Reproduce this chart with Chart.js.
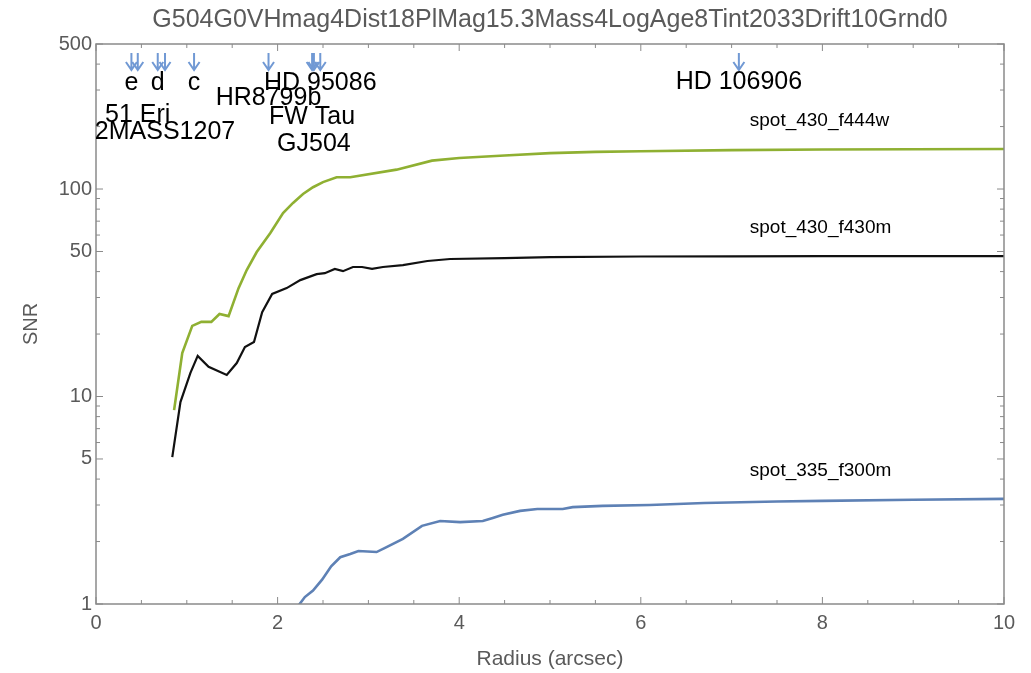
<!DOCTYPE html>
<html>
<head>
<meta charset="utf-8">
<script src="https://cdn.jsdelivr.net/npm/chart.js@4.4.0/dist/chart.umd.min.js"></script>
<style>
html, body { margin: 0; padding: 0; background: #fff; }
#wrap { width: 1031px; height: 673px; }
</style>
</head>
<body>
<div id="wrap"><canvas id="snr"></canvas></div>
<script>
// plot title
const plotTitle = 'G504G0VHmag4Dist18PlMag15.3Mass4LogAge8Tint2033Drift10Grnd0';

// spot_430_f444w
const f444wRadius = [0.86, 0.95, 1.06, 1.16, 1.27, 1.36, 1.46, 1.57, 1.66, 1.77, 1.92, 2.06, 2.17, 2.28, 2.39, 2.5, 2.65, 2.8, 3.31, 3.7, 4.0, 4.5, 5.0, 5.5, 6.0, 7.0, 8.0, 9.0, 10.0];
const f444wSNR = [8.6, 16.2, 21.9, 22.9, 22.9, 25, 24.4, 33.3, 40.7, 49.7, 61.4, 76.6, 85.7, 94.6, 102, 108, 114, 114, 124, 137, 141, 145, 149, 151, 152, 154, 155, 155.5, 156];

// spot_430_f430m
const f430mRadius = [0.84, 0.93, 1.04, 1.12, 1.24, 1.44, 1.55, 1.64, 1.74, 1.83, 1.94, 2.1, 2.25, 2.43, 2.52, 2.63, 2.72, 2.83, 2.93, 3.04, 3.16, 3.38, 3.65, 3.9, 4.5, 5.0, 6.0, 7.0, 8.0, 9.0, 10.0];
const f430mSNR = [5.1, 9.4, 13, 15.7, 13.9, 12.7, 14.5, 17.3, 18.3, 25.5, 31.2, 33.3, 36.4, 38.9, 39.3, 41.2, 40.2, 42.1, 42.1, 41.2, 42.1, 43, 45, 46, 46.5, 47, 47.3, 47.4, 47.5, 47.5, 47.5];

// spot_335_f300m
const f300mRadius = [2.22, 2.3, 2.39, 2.49, 2.59, 2.69, 2.8, 2.89, 3.09, 3.2, 3.38, 3.59, 3.79, 4.01, 4.26, 4.37, 4.48, 4.67, 4.86, 5.14, 5.25, 5.58, 6.1, 6.7, 7.5, 8.0, 9.0, 10.0];
const f300mSNR = [0.97, 1.08, 1.16, 1.31, 1.52, 1.68, 1.74, 1.8, 1.78, 1.88, 2.06, 2.38, 2.51, 2.48, 2.51, 2.6, 2.69, 2.81, 2.87, 2.87, 2.93, 2.97, 3.0, 3.07, 3.12, 3.14, 3.18, 3.21];

// known companions and their separations (arcsec)
const planetNames = ['e', '51 Eri', 'd', '2MASS1207', 'c', 'HR8799b', 'HD 95086', 'FW Tau', 'GJ504', 'HD 106906'];
const planetSep = [0.39, 0.46, 0.68, 0.76, 1.08, 1.9, 2.47, 2.38, 2.4, 7.08];

// axis ticks
const xTickValues = [0, 2, 4, 6, 8, 10];
const yTickLabels = [1, 5, 10, 50, 100, 500];

// label placement (pixels below the top of the frame)
const planetLabelDy = [39, 71, 39, 88, 39, 54, 39, 73, 100, 38];
const seriesLabelX = 7.2;
const seriesLabelDy = 28;

const frameGray = '#8a8a8a';
const textGray = '#5a5a5a';
const fontFam = '"Liberation Sans", Arial, sans-serif';

function pts(xs, ys) {
    return xs.map((x, i) => ({x: x, y: ys[i]}));
}

const framePlugin = {
    id: 'frame',
    afterDraw(chart) {
        const ctx = chart.ctx;
        const a = chart.chartArea;
        const xs = chart.scales.x;
        const ys = chart.scales.y;
        ctx.save();

        // title
        ctx.fillStyle = textGray;
        ctx.font = '25px ' + fontFam;
        ctx.textAlign = 'center';
        ctx.textBaseline = 'middle';
        ctx.fillText(plotTitle, (a.left + a.right) / 2, 20);

        // frame
        ctx.strokeStyle = frameGray;
        ctx.lineWidth = 1.5;
        ctx.strokeRect(a.left, a.top, a.right - a.left, a.bottom - a.top);

        // ticks, pointing inwards
        ctx.lineWidth = 1;
        ctx.beginPath();
        for (let v = 0; v <= 10.001; v += 0.5) {
            const px = xs.getPixelForValue(v);
            const len = xTickValues.includes(Math.round(v * 10) / 10) ? 7 : 4;
            ctx.moveTo(px, a.bottom); ctx.lineTo(px, a.bottom - len);
            ctx.moveTo(px, a.top); ctx.lineTo(px, a.top + len);
        }
        for (let dec = 1; dec <= 100; dec *= 10) {
            for (let m = 1; m <= 9; m++) {
                const v = m * dec;
                if (v > 500) break;
                const py = ys.getPixelForValue(v);
                const len = yTickLabels.includes(v) ? 7 : 4;
                ctx.moveTo(a.left, py); ctx.lineTo(a.left + len, py);
                ctx.moveTo(a.right, py); ctx.lineTo(a.right - len, py);
            }
        }
        ctx.stroke();

        // companion arrows and names
        ctx.strokeStyle = '#7199d4';
        ctx.lineWidth = 2;
        planetSep.forEach((s) => {
            const px = xs.getPixelForValue(s);
            ctx.beginPath();
            ctx.moveTo(px, a.top + 9);
            ctx.lineTo(px, a.top + 26);
            ctx.moveTo(px - 5.5, a.top + 18);
            ctx.lineTo(px, a.top + 26);
            ctx.lineTo(px + 5.5, a.top + 18);
            ctx.stroke();
        });
        ctx.fillStyle = '#000';
        ctx.font = '25px ' + fontFam;
        ctx.textAlign = 'center';
        ctx.textBaseline = 'middle';
        planetNames.forEach((n, i) => {
            ctx.fillText(n, xs.getPixelForValue(planetSep[i]), a.top + planetLabelDy[i]);
        });

        // series labels
        ctx.font = '19px ' + fontFam;
        ctx.textAlign = 'left';
        chart.data.datasets.forEach((ds) => {
            const last = ds.data[ds.data.length - 1].y;
            ctx.fillText(ds.label, xs.getPixelForValue(seriesLabelX), ys.getPixelForValue(last) - seriesLabelDy);
        });
        ctx.restore();
    }
};

new Chart(document.getElementById('snr'), {
    type: 'line',
    data: {
        datasets: [{
            label: 'spot_430_f444w',
            data: pts(f444wRadius, f444wSNR),
            borderColor: '#8fb032',
            borderWidth: 2.6
        }, {
            label: 'spot_430_f430m',
            data: pts(f430mRadius, f430mSNR),
            borderColor: '#111111',
            borderWidth: 2.2
        }, {
            label: 'spot_335_f300m',
            data: pts(f300mRadius, f300mSNR),
            borderColor: '#5e81b5',
            borderWidth: 2.6
        }]
    },
    options: {
        responsive: true,
        maintainAspectRatio: false,
        animation: false,
        layout: {padding: {top: 44, right: 27, left: 0, bottom: 0}},
        elements: {
            point: {radius: 0},
            line: {tension: 0, fill: false}
        },
        plugins: {
            legend: {display: false},
            tooltip: {enabled: false}
        },
        scales: {
            x: {
                type: 'linear',
                min: 0,
                max: 10,
                grid: {display: false},
                border: {display: false},
                ticks: {
                    stepSize: 2,
                    padding: -1,
                    color: textGray,
                    font: {family: fontFam, size: 20}
                },
                title: {
                    display: true,
                    text: 'Radius (arcsec)',
                    color: textGray,
                    font: {family: fontFam, size: 21},
                    padding: {top: 0, bottom: 1}
                },
                afterFit(scale) { scale.height = 69; }
            },
            y: {
                type: 'logarithmic',
                min: 1,
                max: 500,
                grid: {display: false},
                border: {display: false},
                ticks: {
                    autoSkip: false,
                    padding: -4,
                    color: textGray,
                    font: {family: fontFam, size: 20},
                    callback: function (v) {
                        return yTickLabels.includes(v) ? String(v) : '';
                    }
                },
                title: {
                    display: true,
                    text: 'SNR',
                    color: textGray,
                    font: {family: fontFam, size: 20},
                    padding: {top: 19, bottom: 0}
                },
                afterFit(scale) { scale.width = 96; }
            }
        }
    },
    plugins: [framePlugin]
});
</script>
</body>
</html>
